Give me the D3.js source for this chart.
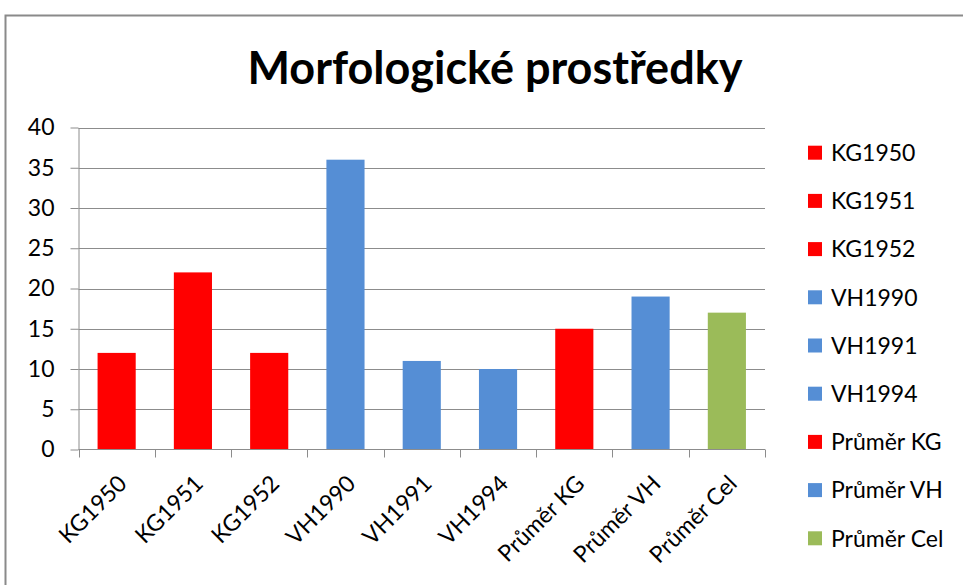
<!DOCTYPE html>
<html lang="cs">
<head>
    <meta charset="UTF-8">
    <title>Morfologické prostředky</title>
    <style>
        body { margin: 0; background: #fff; }
        svg text { font-family: Lato, "Liberation Sans", sans-serif; fill: #000; }
        .grid line { stroke: #8c8c8c; stroke-width: 1; }
        .axis path, .axis line { stroke: #8c8c8c; }
    </style>
</head>
<body>
    <svg id="chart" width="963" height="585"></svg>
    <script src="https://d3js.org/d3.v7.min.js"></script>
    <script>
        // data
        const categories = ["KG1950", "KG1951", "KG1952", "VH1990", "VH1991", "VH1994", "Průměr KG", "Průměr VH", "Průměr Cel"];
        const values = [12, 22, 12, 36, 11, 10, 15, 19, 17];
        const groups = ["KG", "KG", "KG", "VH", "VH", "VH", "KG", "VH", "Cel"];
        const yTicks = [0, 5, 10, 15, 20, 25, 30, 35, 40];

        const colors = { KG: "#ff0000", VH: "#558ed5", Cel: "#9bbb59" };

        const svg = d3.select("#chart");
        const plotLeft = 78.5, plotRight = 765, plotTop = 127.5, plotBottom = 449.5;

        // chart frame
        svg.append("rect")
            .attr("x", 5.5).attr("y", 15.5)
            .attr("width", 1000).attr("height", 1000)
            .attr("fill", "none")
            .attr("stroke", "#8a8a8a")
            .attr("stroke-width", 2);

        svg.append("text")
            .attr("x", 495).attr("y", 84)
            .attr("text-anchor", "middle")
            .style("font-size", "45px")
            .style("font-weight", "bold")
            .text("Morfologické prostředky");

        const x = d3.scaleBand()
            .domain(categories)
            .range([plotLeft, plotRight])
            .paddingInner(0.5)
            .paddingOuter(0.25);

        const y = d3.scaleLinear().domain([0, 40]).range([plotBottom, plotTop]);

        // gridlines
        svg.append("g").attr("class", "grid")
            .selectAll("line")
            .data(yTicks.filter(d => d > 0))
            .join("line")
            .attr("x1", plotLeft).attr("x2", plotRight)
            .attr("y1", d => Math.round(y(d)) + 0.5)
            .attr("y2", d => Math.round(y(d)) + 0.5);

        // y axis
        const yAxis = svg.append("g")
            .attr("class", "axis")
            .attr("transform", `translate(${plotLeft},0)`)
            .call(d3.axisLeft(y).tickValues(yTicks).tickSize(8).tickPadding(16).tickSizeOuter(0));
        yAxis.selectAll("text").style("font-size", "23px");

        // bars
        svg.append("g")
            .selectAll("rect")
            .data(categories)
            .join("rect")
            .attr("x", d => x(d))
            .attr("width", x.bandwidth())
            .attr("y", (d, i) => y(values[i]))
            .attr("height", (d, i) => y(0) - y(values[i]))
            .attr("fill", (d, i) => colors[groups[i]]);

        // x axis line and ticks at category boundaries
        const step = x.step();
        const bounds = d3.range(categories.length + 1).map(i => plotLeft + i * step);
        const xg = svg.append("g").attr("class", "axis");
        xg.append("line")
            .attr("x1", plotLeft).attr("x2", plotRight)
            .attr("y1", plotBottom).attr("y2", plotBottom);
        xg.selectAll("line.tick")
            .data(bounds)
            .join("line")
            .attr("class", "tick")
            .attr("x1", d => Math.round(d) + 0.5).attr("x2", d => Math.round(d) + 0.5)
            .attr("y1", plotBottom).attr("y2", plotBottom + 8);

        svg.append("g")
            .selectAll("text")
            .data(categories)
            .join("text")
            .attr("transform", d => `translate(${x(d) + x.bandwidth() / 2},${plotBottom + 24}) rotate(-45)`)
            .attr("text-anchor", "end")
            .attr("dy", "0.71em")
            .style("font-size", "23px")
            .text(d => d);

        // legend
        const legend = svg.append("g")
            .selectAll("g")
            .data(categories)
            .join("g")
            .attr("transform", (d, i) => `translate(808,${152.7 + i * 48.2})`);
        legend.append("rect")
            .attr("x", 0).attr("y", -7)
            .attr("width", 14).attr("height", 14)
            .attr("fill", (d, i) => colors[groups[i]]);
        legend.append("text")
            .attr("x", 23).attr("dy", "0.36em")
            .style("font-size", "23px")
            .text(d => d);
    </script>
</body>
</html>
